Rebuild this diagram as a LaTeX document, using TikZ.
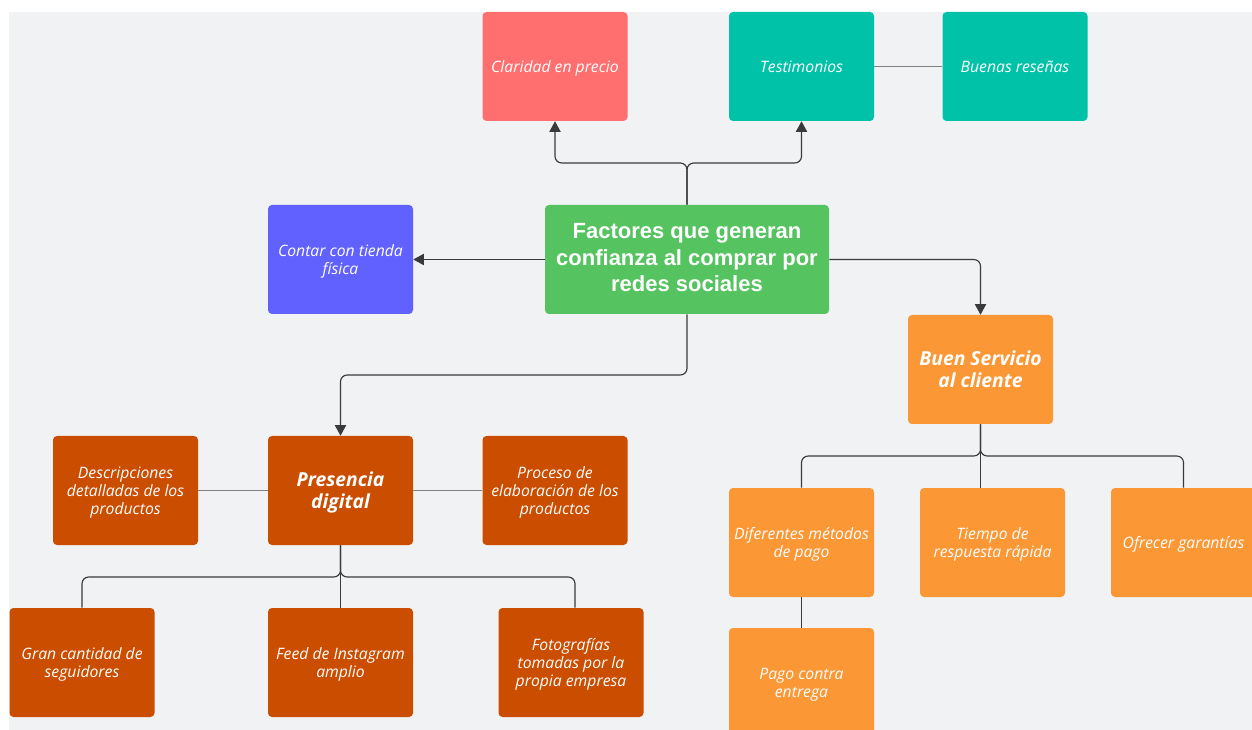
\documentclass[tikz,border=0pt]{standalone}
\usepackage{fontspec}
\setmainfont{Open Sans}
\newfontfamily\titlefont{Liberation Sans}
\usetikzlibrary{arrows.meta}
\definecolor{bgray}{HTML}{F1F2F4}
\definecolor{cred}{HTML}{FF6F6F}
\definecolor{cteal}{HTML}{00C2A8}
\definecolor{cblue}{HTML}{6161FF}
\definecolor{cgreen}{HTML}{55C35F}
\definecolor{corange}{HTML}{FC9735}
\definecolor{cdark}{HTML}{CA4D00}
\definecolor{cline}{HTML}{3A3A3A}
\tikzset{
  box/.style={rectangle, rounded corners=3pt, minimum width=108.75pt, minimum height=81.75pt,
    text=white, align=center, inner sep=2pt, text depth=-1.2pt,
    font=\fontsize{11.8}{13.5}\selectfont\itshape},
  bigbox/.style={box, text depth=-1.1pt, font=\fontsize{14.5}{16.5}\selectfont\bfseries\itshape},
  arr/.style={draw=cline, line width=0.85pt, rounded corners=5pt, -{Triangle[width=8.5pt,length=8pt]}},
  link/.style={draw=cline, line width=0.85pt, rounded corners=5pt},
  thin/.style={draw=gray, line width=0.5pt}
}
\begin{document}
\begin{tikzpicture}[x=0.75pt,y=-0.75pt]
\useasboundingbox (0,0) rectangle (1252,730);
\fill[white] (0,0) rectangle (1252,730);
\fill[bgray] (9,12) rectangle (1252,730);

\node[box, fill=cred] (clar) at (555,66.5) {Claridad en precio};
\node[box, fill=cteal] (test) at (801.5,66.5) {Testimonios};
\node[box, fill=cteal] (resen) at (1015,66.5) {Buenas reseñas};
\node[box, fill=cblue] (tienda) at (340.5,259.5) {Contar con tienda\\física};
\node[box, fill=cgreen, minimum width=213pt, text depth=3pt,
  font=\titlefont\fontsize{16.5}{20}\selectfont\bfseries] (cen) at (687,259.5)
  {Factores que generan\\confianza al comprar por\\redes sociales};
\node[bigbox, fill=corange] (serv) at (980.5,369.5) {Buen Servicio\\al cliente};
\node[box, fill=cdark] (desc) at (125.5,490.5) {Descripciones\\detalladas de los\\productos};
\node[bigbox, fill=cdark] (pres) at (340.5,490.5) {Presencia\\digital};
\node[box, fill=cdark] (proc) at (555,490.5) {Proceso de\\elaboración de los\\productos};
\node[box, fill=cdark] (gran) at (82,662.5) {Gran cantidad de\\seguidores};
\node[box, fill=cdark] (feed) at (340.5,662.5) {Feed de Instagram\\amplio};
\node[box, fill=cdark] (foto) at (571,662.5) {Fotografías\\tomadas por la\\propia empresa};
\node[box, fill=corange] (dif) at (801.5,542.5) {Diferentes métodos\\de pago};
\node[box, fill=corange] (tiem) at (992.5,542.5) {Tiempo de\\respuesta rápida};
\node[box, fill=corange] (ofre) at (1183.5,542.5) {Ofrecer garantías};
\node[box, fill=corange] (pago) at (801.5,682.5) {Pago contra\\entrega};

\coordinate (splitT) at (687,163);
\coordinate (kneeP) at (687,375);
\coordinate (splitP) at (340.5,577);
\coordinate (splitS) at (980.5,456);

\draw[arr] (cen.north) -- (splitT) -| (clar.south);
\draw[arr] (cen.north) -- (splitT) -| (test.south);
\draw[thin] (test.east) -- (resen.west);
\draw[arr] (cen.west) -- (tienda.east);
\draw[arr] (cen.east) -| (serv.north);
\draw[arr] (cen.south) -- (kneeP) -| (pres.north);
\draw[thin] (pres.west) -- (desc.east);
\draw[thin] (pres.east) -- (proc.west);
\draw[link] (pres.south) -- (splitP) -| (gran.north);
\draw[link] (pres.south) -- (feed.north);
\draw[link] (pres.south) -- (splitP) -| ([xshift=3pt]foto.north);
\draw[link] (serv.south) -- (splitS) -| (dif.north);
\draw[link] (serv.south) -- (serv.south |- tiem.north);
\draw[link] (serv.south) -- (splitS) -| (ofre.north);
\draw[link] (dif.south) -- (pago.north);
\end{tikzpicture}
\end{document}
